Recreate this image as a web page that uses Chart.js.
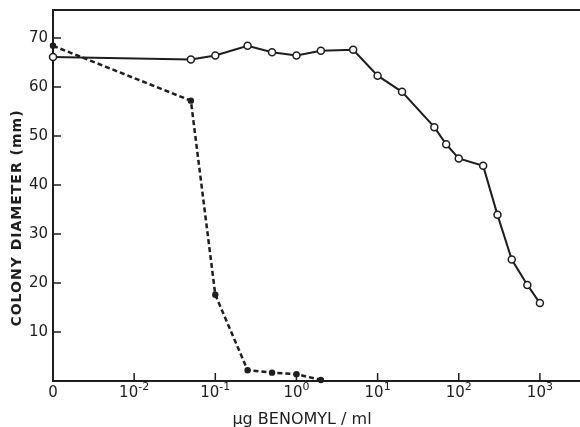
<!DOCTYPE html>
<html>
<head>
<meta charset="utf-8">
<script src="https://cdn.jsdelivr.net/npm/chart.js@4.4.1/dist/chart.umd.min.js"></script>
<style>
  html, body { margin: 0; padding: 0; background: #fff; }
  canvas { display: block; }
</style>
</head>
<body>
<canvas id="chart" width="580" height="427"></canvas>
<script>
// concentration 0 is plotted at the "0" tick, one decade left of 10^-2
const ZERO_AT = 0.001;

// open circles, solid line
const controlConc = [0, 0.05, 0.1, 0.25, 0.5, 1, 2, 5, 10, 20, 50, 70, 100, 200, 300, 450, 700, 1000];
const controlDiam = [66.1, 65.6, 66.4, 68.4, 67.1, 66.4, 67.4, 67.6, 62.3, 59.0, 51.8, 48.3, 45.4, 43.9, 33.9, 24.8, 19.6, 15.9];

// filled dots, dashed line
const sensitiveConc = [0, 0.05, 0.1, 0.25, 0.5, 1, 2];
const sensitiveDiam = [68.4, 57.2, 17.6, 2.2, 1.7, 1.4, 0.2];

// x tick labels are base + raised exponent
const xTickValues = [0, 0.01, 0.1, 1, 10, 100, 1000];
const xTickBase = ["0", "10", "10", "10", "10", "10", "10"];
const xTickExp = ["", "-2", "-1", "0", "1", "2", "3"];
const yTickValues = [10, 20, 30, 40, 50, 60, 70];

const INK = "#1e1e1e";
const FONT = "'DejaVu Sans', sans-serif";

function toPoints(conc, diam) {
  return conc.map((c, i) => ({ x: c === 0 ? ZERO_AT : c, y: diam[i] }));
}

// top frame line, inward tick marks, x tick labels and the axis titles
const frameAndTicks = {
  id: "frameAndTicks",
  afterDraw(chart) {
    const { ctx, chartArea, scales } = chart;
    const x = scales.x, y = scales.y;
    ctx.save();
    ctx.strokeStyle = INK;
    ctx.lineWidth = 2;
    ctx.beginPath();
    ctx.moveTo(chartArea.left - 1, chartArea.top);
    ctx.lineTo(chartArea.right, chartArea.top);
    ctx.stroke();

    ctx.lineWidth = 1.5;
    ctx.beginPath();
    x.ticks.forEach((t) => {
      const px = x.getPixelForValue(t.value);
      ctx.moveTo(px, chartArea.bottom);
      ctx.lineTo(px, chartArea.bottom - 8);
    });
    y.ticks.forEach((t) => {
      const py = y.getPixelForValue(t.value);
      ctx.moveTo(chartArea.left, py);
      ctx.lineTo(chartArea.left + 8, py);
    });
    ctx.stroke();

    ctx.fillStyle = INK;
    ctx.textAlign = "left";
    ctx.textBaseline = "alphabetic";
    x.ticks.forEach((t, i) => {
      const px = x.getPixelForValue(t.value);
      ctx.font = "15px " + FONT;
      const wb = ctx.measureText(xTickBase[i]).width;
      ctx.font = "11px " + FONT;
      const we = ctx.measureText(xTickExp[i]).width;
      const start = px - (wb + we) / 2;
      ctx.font = "15px " + FONT;
      ctx.fillText(xTickBase[i], start, chartArea.bottom + 16);
      ctx.font = "11px " + FONT;
      ctx.fillText(xTickExp[i], start + wb, chartArea.bottom + 9);
    });

    ctx.font = "16px " + FONT;
    ctx.textAlign = "center";
    ctx.fillText("µg BENOMYL / ml", 302, 424);

    ctx.translate(17, 218);
    ctx.rotate(-Math.PI / 2);
    ctx.textBaseline = "middle";
    ctx.font = "bold 14px " + FONT;
    ctx.letterSpacing = "1px";
    ctx.fillText("COLONY DIAMETER (mm)", 0, 0);
    ctx.restore();
  },
};

new Chart(document.getElementById("chart"), {
  type: "line",
  data: {
    datasets: [
      {
        label: "control",
        data: toPoints(controlConc, controlDiam),
        borderColor: INK,
        borderWidth: 2,
        tension: 0,
        pointRadius: 3.5,
        pointBorderWidth: 1.5,
        pointBackgroundColor: "#fff",
        pointBorderColor: INK,
        clip: false,
      },
      {
        label: "sensitive",
        data: toPoints(sensitiveConc, sensitiveDiam),
        borderColor: INK,
        borderWidth: 2.5,
        borderDash: [5, 3],
        tension: 0,
        pointRadius: 3.2,
        pointBorderWidth: 0,
        pointBackgroundColor: INK,
        clip: false,
      },
    ],
  },
  options: {
    responsive: false,
    animation: false,
    events: [],
    layout: { autoPadding: false, padding: { top: 10, right: 0, left: 0, bottom: 0 } },
    plugins: { legend: { display: false }, tooltip: { enabled: false } },
    scales: {
      x: {
        type: "logarithmic",
        min: ZERO_AT,
        max: 3120,
        afterBuildTicks: (scale) => {
          scale.ticks = xTickValues.map((v) => ({ value: v === 0 ? ZERO_AT : v }));
        },
        afterFit: (scale) => {
          scale.height = 46;
          scale.paddingLeft = 0;
          scale.paddingRight = 0;
        },
        grid: { display: false, drawTicks: false },
        border: { color: INK, width: 2 },
        ticks: { display: false, autoSkip: false },
      },
      y: {
        min: 0,
        max: 75.7,
        afterBuildTicks: (scale) => {
          scale.ticks = yTickValues.map((v) => ({ value: v }));
        },
        afterFit: (scale) => {
          scale.width = 53;
          scale.paddingTop = 0;
          scale.paddingBottom = 0;
        },
        grid: { display: false, drawTicks: false },
        border: { color: INK, width: 2 },
        ticks: {
          padding: 5,
          color: INK,
          font: { family: FONT, size: 15 },
        },
      },
    },
  },
  plugins: [frameAndTicks],
});
</script>
</body>
</html>
